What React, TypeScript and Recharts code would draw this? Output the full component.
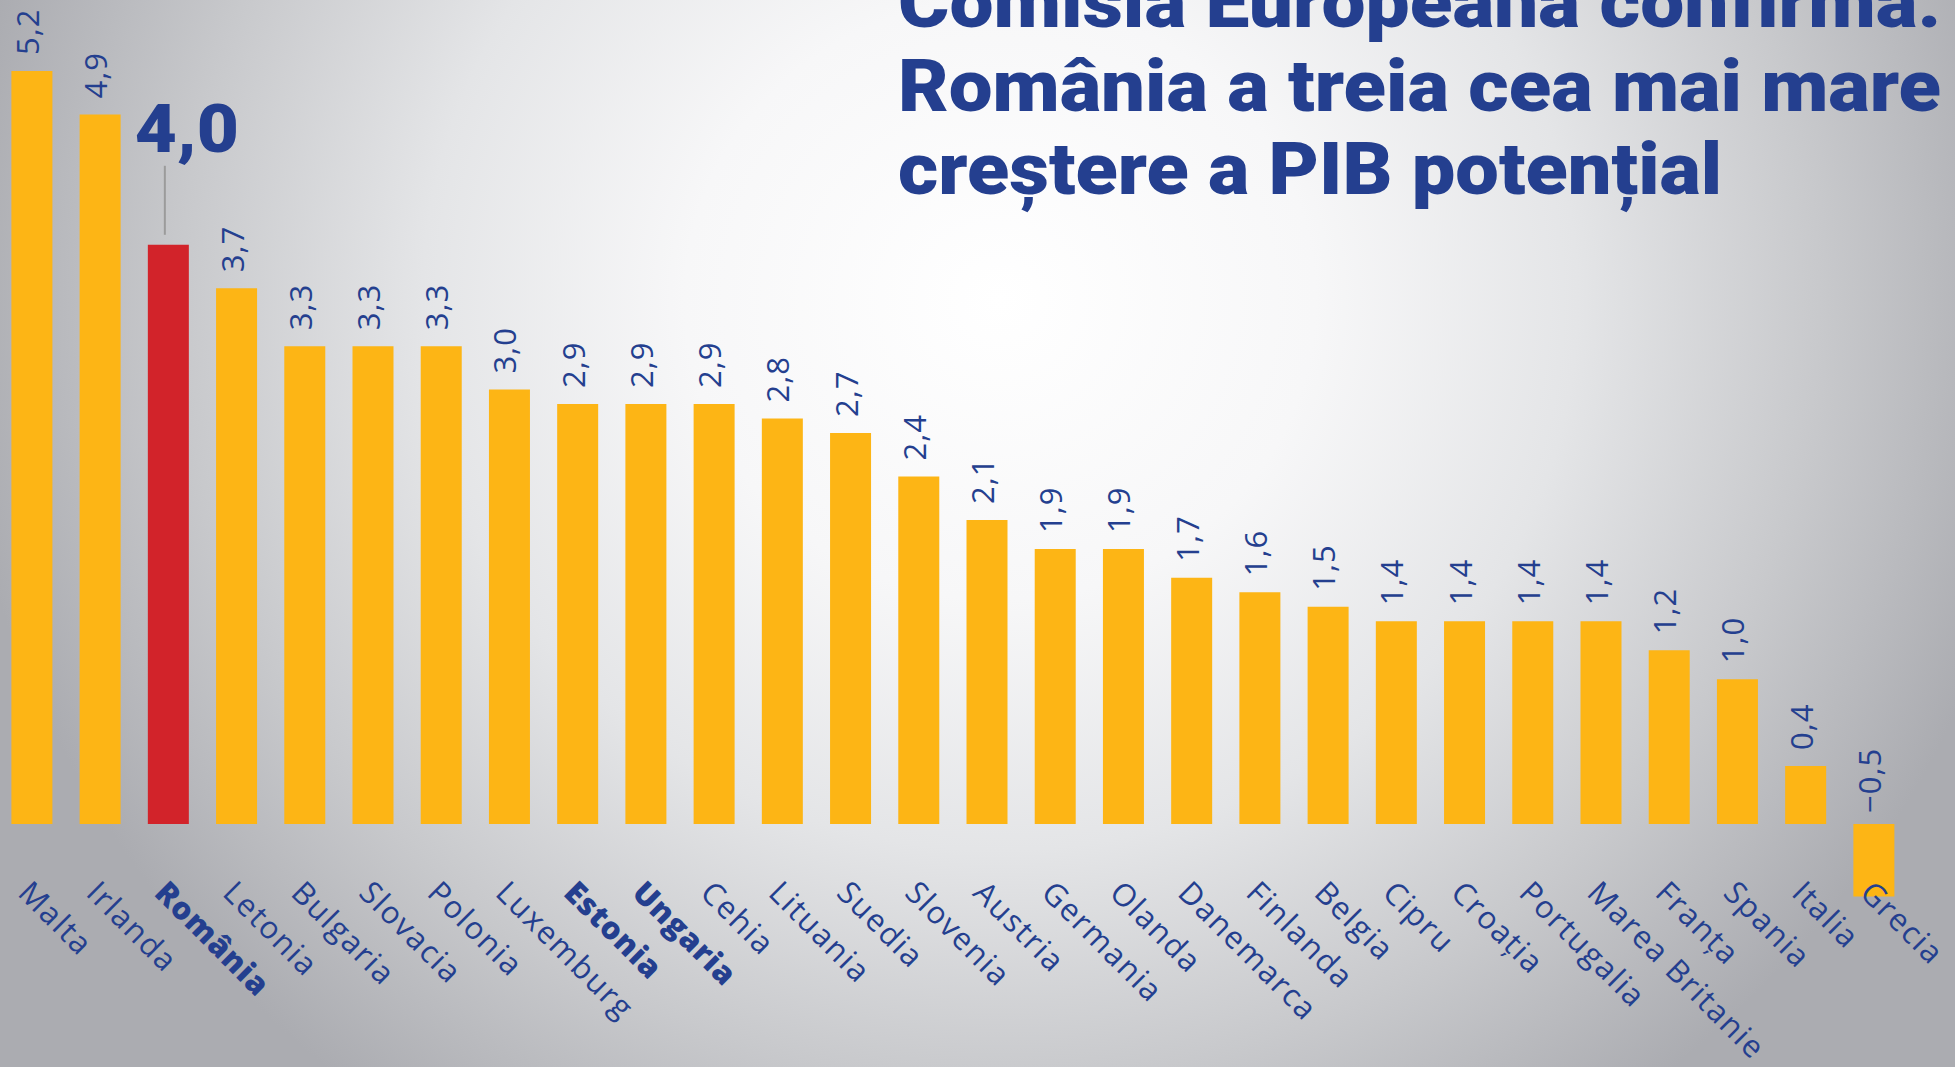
import React from 'react';
import { BarChart, Bar, XAxis, YAxis, Cell } from 'recharts';

const countries = [
  'Malta', 'Irlanda', 'România', 'Letonia', 'Bulgaria', 'Slovacia', 'Polonia',
  'Luxemburg', 'Estonia', 'Ungaria', 'Cehia', 'Lituania', 'Suedia', 'Slovenia',
  'Austria', 'Germania', 'Olanda', 'Danemarca', 'Finlanda', 'Belgia', 'Cipru',
  'Croația', 'Portugalia', 'Marea Britanie', 'Franța', 'Spania', 'Italia', 'Grecia',
];
const growth = [
  5.2, 4.9, 4.0, 3.7, 3.3, 3.3, 3.3, 3.0, 2.9, 2.9, 2.9, 2.8, 2.7, 2.4,
  2.1, 1.9, 1.9, 1.7, 1.6, 1.5, 1.4, 1.4, 1.4, 1.4, 1.2, 1.0, 0.4, -0.5,
];
const boldCountries = ['România', 'Estonia', 'Ungaria'];
const highlighted = 'România';
const titleLines = [
  'Comisia Europeana confirma:',
  'România a treia cea mai mare',
  'creștere a PIB potențial',
];

const data = countries.map((country, i) => ({ country, value: growth[i] }));

const BLUE = '#243f8f';
const ORANGE = '#fdb515';
const RED = '#d2232a';
const FONT = '"Open Sans", "Noto Sans", sans-serif';
const TITLE_FONT = 'Roboto, "Noto Sans", sans-serif';

const fmt = (v: number) => (v < 0 ? '\u2212' : '') + Math.abs(v).toFixed(1).replace('.', ',');

const CountryTick = (props: any) => {
  const { x, y, payload } = props;
  const bold = boldCountries.includes(payload.value);
  const ax = x - 15;
  const ay = y - 2;
  return (
    <text
      x={ax}
      y={ay}
      transform={`rotate(45 ${ax} ${ay})`}
      fill={BLUE}
      fontSize={31}
      fontWeight={bold ? 800 : 400}
      fontFamily={FONT}
      letterSpacing={bold ? 0.8 : 1.6}
      textAnchor="start"
    >
      {payload.value}
    </text>
  );
};

const ValueLabel = (props: any) => {
  const { x, y, width, height, value, index } = props;
  const cx = x + width / 2;
  const top = Math.min(y, y + height);
  const name = data[index]?.country;
  if (name === highlighted) {
    return (
      <g>
        <text
          x={cx - 33.5}
          y={top - 93}
          fill={BLUE}
          fontSize={66}
          fontWeight={900}
          fontFamily={TITLE_FONT}
          textLength={104}
          lengthAdjust="spacingAndGlyphs"
        >
          {fmt(value)}
        </text>
        <line x1={cx - 3.5} x2={cx - 3.5} y1={top - 79} y2={top - 10} stroke="#9b9b9b" strokeWidth={2} />
      </g>
    );
  }
  const ax = cx + 7;
  const ay = top - (value < 0 ? 11 : 16);
  return (
    <text
      x={ax}
      y={ay}
      transform={`rotate(-90 ${ax} ${ay})`}
      fill={BLUE}
      fontSize={31}
      fontFamily={FONT}
      letterSpacing={1}
      textAnchor="start"
    >
      {fmt(value)}
    </text>
  );
};

export default function App() {
  return (
    <div
      style={{
        position: 'absolute',
        left: 0,
        top: 0,
        width: 1955,
        height: 1067,
        overflow: 'hidden',
        background:
          'radial-gradient(ellipse 1050px 1000px at 1000px 300px, #ffffff 0%, #f7f7f8 30%, #e4e5e7 55%, #c8c9cc 78%, #abacb1 100%)',
      }}
    >
      <div style={{ position: 'absolute', left: -20, top: 0 }}>
        <BarChart
          width={1975}
          height={1067}
          data={data}
          margin={{ top: 27.6, right: 47.4, bottom: 0, left: 17.4 }}
        >
          <YAxis hide domain={[-0.5, 5.5]} type="number" />
          <XAxis
            dataKey="country"
            interval={0}
            height={170.6}
            axisLine={false}
            tickLine={false}
            tickSize={0}
            tickMargin={0}
            tick={<CountryTick />}
          />
          <Bar dataKey="value" barSize={41} isAnimationActive={false} label={ValueLabel}>
            {data.map((d) => (
              <Cell key={d.country} fill={d.country === highlighted ? RED : ORANGE} />
            ))}
          </Bar>
        </BarChart>
      </div>
      <svg
        width={1955}
        height={1067}
        style={{ position: 'absolute', left: 0, top: 0, pointerEvents: 'none' }}
      >
        {titleLines.map((line, i) => (
          <text
            key={i}
            x={898}
            y={27 + i * 83.5}
            fill={BLUE}
            fontSize={72}
            fontWeight={900}
            fontFamily={TITLE_FONT}
            textLength={[1043, 1043, 824][i]}
            lengthAdjust="spacingAndGlyphs"
          >
            {line}
          </text>
        ))}
      </svg>
    </div>
  );
}
